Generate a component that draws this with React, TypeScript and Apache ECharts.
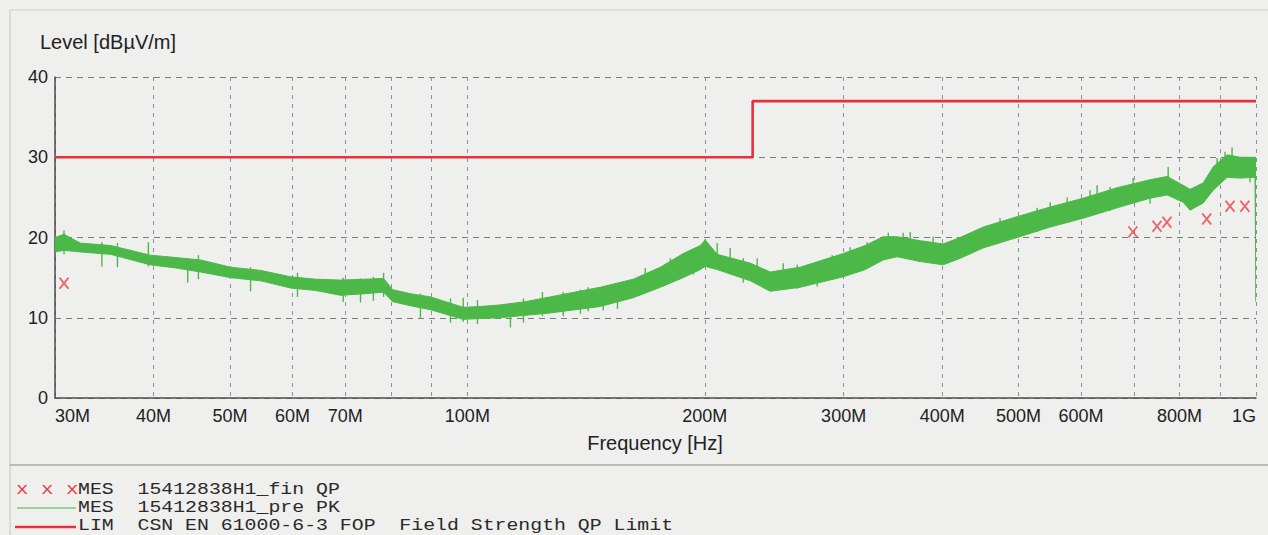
import React, { useEffect, useRef } from "react";
import * as echarts from "echarts";

// PK pre-scan trace: frequency (MHz), lower and upper edge of the noise band (dBµV/m)
const pkFreq = [30.0, 30.8, 32.3, 35.3, 39.6, 42.7, 45.9, 50.1, 54.7, 59.7, 64.2, 69.0, 74.2, 78.3, 80.4, 84.7, 89.8, 98.8, 103.9, 110.1, 118.4, 127.4, 137.0, 147.4, 162.3, 175.7, 187.8, 197.4, 200.3, 207.4, 228.5, 242.1, 264.3, 299.6, 319.5, 336.7, 350.7, 375.2, 401.1, 421.6, 450.8, 497.8, 548.3, 603.7, 666.7, 733.9, 771.5, 808.4, 825.1, 857.1, 882.5, 919.3, 954.4, 997, 1000];
const pkLow = [18.2, 18.4, 18.2, 17.9, 16.6, 16.2, 15.7, 15.0, 14.6, 13.7, 13.4, 12.8, 13.0, 13.2, 12.0, 11.5, 11.0, 9.8, 9.9, 10.0, 10.3, 10.6, 11.0, 11.4, 12.5, 13.8, 15.0, 16.0, 16.4, 16.0, 14.6, 13.3, 13.8, 15.1, 16.0, 17.2, 17.6, 17.0, 16.6, 17.4, 18.7, 20.0, 21.3, 22.4, 23.7, 24.9, 25.3, 24.4, 23.4, 24.3, 25.9, 27.5, 27.4, 27.5, 12.0];
const pkHigh = [20.0, 20.4, 19.3, 19.0, 17.8, 17.5, 17.2, 16.3, 15.9, 15.1, 14.8, 14.7, 14.8, 14.9, 13.5, 13.0, 12.6, 11.3, 11.4, 11.6, 12.0, 12.6, 13.2, 13.8, 14.8, 16.3, 18.0, 19.0, 19.7, 17.9, 16.8, 15.7, 16.3, 18.0, 19.0, 20.1, 20.1, 19.6, 19.2, 20.0, 21.3, 22.6, 23.8, 24.9, 26.2, 27.2, 27.6, 26.5, 26.0, 26.8, 28.8, 30.3, 30.0, 30.0, 29.5];

// isolated peaks standing out of the PK band
const spikeFreq = [30.8, 34.4, 36.0, 39.4, 44.2, 45.6, 53.1, 60.9, 69.6, 73.2, 76.0, 78.3, 87.2, 95.2, 98.8, 103.0, 113.4, 117.8, 124.5, 132.3, 139.1, 142.3, 148.7, 155.0, 168.1, 180.9, 193.4, 200.3, 207.4, 215.4, 223.8, 233.1, 251.5, 262.0, 277.7, 290.1, 305.8, 321.3, 341.8, 356.9, 364.4, 389.6, 473.7, 527.8, 548.3, 576.2, 616.1, 628.8, 653.1, 698.5, 733.9, 773.8, 892.6, 913.5, 932.5, 982.6];
const spikeLevel = [20.9, 19.4, 19.3, 19.4, 17.4, 17.8, 16.3, 15.6, 15.0, 14.9, 15.1, 15.6, 13.0, 12.4, 12.5, 12.2, 11.8, 12.4, 13.2, 13.2, 13.5, 13.8, 13.9, 14.1, 16.2, 17.4, 18.4, 19.8, 19.3, 18.7, 17.4, 17.4, 16.8, 16.6, 16.9, 17.8, 18.8, 19.4, 20.6, 20.6, 20.7, 20.1, 22.4, 23.7, 24.4, 25.0, 25.9, 26.5, 26.3, 27.4, 27.2, 28.8, 29.9, 30.7, 31.2, 29.9];

// QP final measurement points
const qpFreq = [30.8, 698, 749, 771, 866, 927, 968];
const qpLevel = [14.3, 20.7, 21.4, 21.9, 22.3, 23.9, 23.9];

// QP limit line
const limFreq = [30, 230, 230, 1000];
const limLevel = [30, 30, 37, 37];

const xTickValues = [30, 40, 50, 60, 70, 80, 90, 100, 200, 300, 400, 500, 600, 700, 800, 900, 1000];
const xLabelValues = [30, 40, 50, 60, 70, 100, 200, 300, 400, 500, 600, 800, 1000];

const legendLabels = [
  "MES  15412838H1_fin QP",
  "MES  15412838H1_pre PK",
  "LIM  CSN EN 61000-6-3 FOP  Field Strength QP Limit",
];

const GREEN = "#4cb848";
const RED = "#e8303a";
const MONO = "'Liberation Mono', 'DejaVu Sans Mono', monospace";
const SANS = "'Liberation Sans', Arial, sans-serif";

export default function App() {
  const ref = useRef<HTMLDivElement>(null);

  useEffect(() => {
    document.body.style.margin = "0";
    if (!ref.current) return;
    const chart = echarts.init(ref.current, undefined, { renderer: "svg" });

    const legendY = [490, 508, 526];

    const option: any = {
      animation: false,
      backgroundColor: "#efefee",
      grid: { left: 55, right: 12, top: 77, bottom: 137 },
      xAxis: {
        type: "log",
        logBase: 10,
        min: 30,
        max: 1000,
        axisLine: { show: true, lineStyle: { color: "#5a4c46", width: 1.5 } },
        axisTick: { show: false, customValues: xTickValues },
        axisLabel: {
          customValues: xLabelValues,
          color: "#222",
          fontFamily: SANS,
          fontSize: 18,
          margin: 9,
          alignMinLabel: "left",
          alignMaxLabel: "right",
          formatter: (v: number) => (v >= 1000 ? "1G" : Math.round(v) + "M"),
        },
        splitLine: {
          show: true,
          lineStyle: { color: "#8a90a2", type: [4, 5], width: 1 },
        },
      },
      yAxis: {
        type: "value",
        min: 0,
        max: 40,
        interval: 10,
        axisLine: { show: true, lineStyle: { color: "#4a4a4a", width: 1.5 } },
        axisTick: { show: false },
        axisLabel: { color: "#222", fontFamily: SANS, fontSize: 18, margin: 7 },
        splitLine: { show: true, lineStyle: { color: "#7c7c7c", type: [6, 5], width: 1 } },
      },
      series: [
        {
          type: "custom",
          name: "PK band",
          clip: true,
          data: [[pkFreq[0], pkHigh[0]]],
          renderItem: (_p: any, api: any) => {
            const pts: number[][] = [];
            for (let i = 0; i < pkFreq.length; i++) pts.push(api.coord([pkFreq[i], pkHigh[i]]));
            for (let i = pkFreq.length - 1; i >= 0; i--) pts.push(api.coord([pkFreq[i], pkLow[i]]));
            return {
              type: "polygon",
              shape: { points: pts },
              style: { fill: GREEN, stroke: GREEN, lineWidth: 1 },
            };
          },
          z: 3,
        },
        {
          type: "custom",
          name: "PK spikes",
          clip: true,
          data: spikeFreq.map((f, i) => [f, spikeLevel[i]]),
          renderItem: (_p: any, api: any) => {
            const f = api.value(0);
            const v = api.value(1);
            const a = api.coord([f, v]);
            const b = api.coord([f, v - 3]);
            return {
              type: "line",
              shape: { x1: a[0], y1: a[1], x2: b[0], y2: b[1] },
              style: { stroke: GREEN, lineWidth: 1.4 },
            };
          },
          z: 3,
        },
        {
          type: "line",
          name: "Limit",
          data: limFreq.map((f, i) => [f, limLevel[i]]),
          symbol: "none",
          lineStyle: { color: RED, width: 2.6 },
          z: 4,
        },
        {
          type: "scatter",
          name: "QP",
          data: qpFreq.map((f, i) => [f, qpLevel[i]]),
          symbol: "path://M0,0L10,12M10,0L0,12",
          symbolSize: [9, 11],
          itemStyle: { color: "none", borderColor: "#e8404a", borderWidth: 1.8 },
          z: 5,
        },
      ],
      graphic: [
        { type: "line", shape: { x1: 10, y1: 10, x2: 1268, y2: 10 }, style: { stroke: "#cfcfcf", lineWidth: 1 } },
        { type: "line", shape: { x1: 10, y1: 10, x2: 10, y2: 535 }, style: { stroke: "#c4c4c4", lineWidth: 1 } },
        { type: "line", shape: { x1: 10, y1: 465, x2: 1268, y2: 465 }, style: { stroke: "#a8a8a8", lineWidth: 1.5 } },
        {
          type: "text",
          x: 40,
          y: 42,
          style: { text: "Level [dBµV/m]", fill: "#222", font: `20px ${SANS}`, verticalAlign: "middle" },
        },
        {
          type: "text",
          x: 655,
          y: 443,
          style: { text: "Frequency [Hz]", fill: "#222", font: `20px ${SANS}`, align: "center", verticalAlign: "middle" },
        },
        {
          type: "text",
          x: 16,
          y: legendY[0],
          scaleX: 1.3,
          style: { text: "x x x", fill: "#e8404a", font: `16px ${MONO}`, verticalAlign: "middle" },
        },
        { type: "line", shape: { x1: 17, y1: legendY[1], x2: 76, y2: legendY[1] }, style: { stroke: "#7fc87a", lineWidth: 1.6 } },
        { type: "line", shape: { x1: 15, y1: legendY[2] + 1, x2: 76, y2: legendY[2] + 1 }, style: { stroke: RED, lineWidth: 2.6 } },
        ...legendLabels.map((t, i) => ({
          type: "text",
          x: 78,
          y: legendY[i],
          scaleX: 1.24,
          style: { text: t, fill: "#2a2a2a", font: `16px ${MONO}`, verticalAlign: "middle" },
        })),
      ],
    };

    chart.setOption(option);
    return () => chart.dispose();
  }, []);

  return <div ref={ref} style={{ width: 1268, height: 535 }} />;
}
